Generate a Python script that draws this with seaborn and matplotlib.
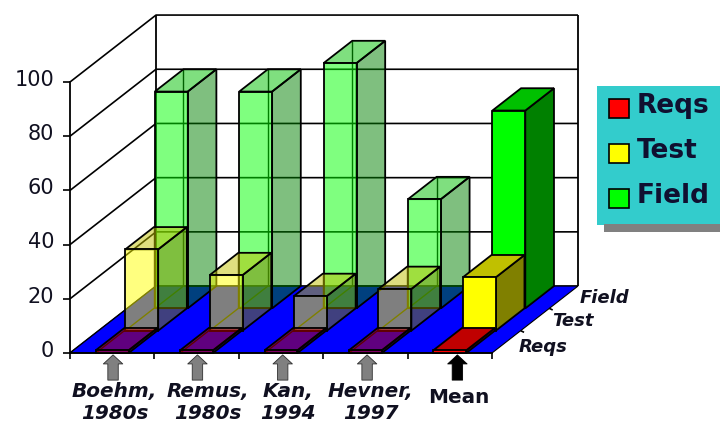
import matplotlib
matplotlib.use("Agg")
import matplotlib.pyplot as plt
import seaborn as sns
import pandas as pd
from matplotlib.patches import Patch, Rectangle
from matplotlib.transforms import Affine2D, ScaledTranslation

studies = ["Boehm,\n1980s", "Remus,\n1980s", "Kan,\n1994", "Hevner,\n1997", "Mean"]
reqs = [1, 1, 1, 1, 1]
test = [30, 20.5, 12.8, 15.4, 19.7]
field = [80, 80, 90.5, 40.3, 73]
series_names = ["Reqs", "Test", "Field"]
alphas = [0.5, 0.5, 0.5, 0.5, 1.0]
y_ticks = [0, 20, 40, 60, 80, 100]
label_shift = [0.03, 0.13, 0.08, 0.06, 0.11]
arrow_shift = [0.01, 0.01, 0.02, 0.02, 0.09]
depth_offsets = [(9, -3.5), (12, -1), (11.5, -0.5)]

front_colors = {"Reqs": "#ff0000", "Test": "#ffff00", "Field": "#00ff00"}
top_colors = {"Reqs": "#c00000", "Test": "#c0c000", "Field": "#00c000"}
side_colors = {"Reqs": "#800000", "Test": "#808000", "Field": "#008000"}
arrow_colors = ["#808080", "#808080", "#808080", "#808080", "#000000"]

sns.set_theme(style="white")
plt.rcParams["font.family"] = ["DejaVu Sans"]

W, H = 720, 423
fig = plt.figure(figsize=(W / 100, H / 100), dpi=100, facecolor="white")
ax = fig.add_axes([70 / W, (H - 353) / H, 422 / W, 271 / H])
ax.patch.set_visible(False)

DX, DY = 1.019, 24.7          # full floor depth, in data units
dx, dy = DX / 3, DY / 3       # depth of a single series row
BAR_W = 0.39
X0, X1 = -0.5, 4.5
LW = 1.3


def poly(xs, ys, fc, z, ec="black", lw=LW):
    ax.fill(xs, ys, facecolor=fc, edgecolor=ec, linewidth=lw, zorder=z, clip_on=False)


def line(xs, ys, z, lw=LW, color="black"):
    ax.plot(xs, ys, color=color, linewidth=lw, zorder=z, clip_on=False, solid_capstyle="butt")


# walls and gridlines
for v in y_ticks:
    line([X0, X0 + DX, X1 + DX], [v, v + DY, v + DY], 1, lw=1.2)
line([X0 + DX, X0 + DX], [DY, 100 + DY], 1)
line([X1 + DX, X1 + DX], [DY, 100 + DY], 1)

# floor
poly([X0, X1, X1 + DX, X0 + DX], [0, 0, DY, DY], "#0000ff", 2, lw=0.8)

# bars, back row first
rows = [("Field", field, 2), ("Test", test, 1), ("Reqs", reqs, 0)]
for name, values, row in rows:
    z = 3 + (2 - row)
    ox, oy = row * dx * 1.03, row * dy
    for i, (v, a) in enumerate(zip(values, alphas)):
        l, r = i - BAR_W / 2 + ox, i + BAR_W / 2 + ox
        # hidden edges, seen through the translucent faces
        line([l + dx, l + dx], [oy + dy, oy + dy + v], z + 0.1, lw=1.0)
        line([l, l + dx, r + dx], [oy, oy + dy, oy + dy], z + 0.1, lw=1.0)
        # side and top faces
        sc = matplotlib.colors.to_rgba(side_colors[name], a)
        tc = matplotlib.colors.to_rgba(top_colors[name], a)
        poly([r, r + dx, r + dx, r], [oy, oy + dy, oy + dy + v, oy + v], sc, z + 0.2)
        poly([l, r, r + dx, l + dx], [oy + v, oy + v, oy + v + dy, oy + v + dy], tc, z + 0.2)
    # front faces
    n_before = len(ax.patches)
    frame = pd.DataFrame({"study": studies, "value": values})
    sns.barplot(
        data=frame, x="study", y="value", order=studies, color=front_colors[name],
        saturation=1, width=BAR_W, errorbar=None, ax=ax, edgecolor="black",
        linewidth=LW, zorder=z + 0.3, clip_on=False,
        transform=Affine2D().translate(ox, oy) + ax.transData,
    )
    for p, a in zip(ax.patches[n_before:], alphas):
        p.set_facecolor(matplotlib.colors.to_rgba(front_colors[name], a))

# axes
ax.set_xlim(X0, X1)
ax.set_ylim(0, 100)
ax.set_xlabel("")
ax.set_ylabel("")
ax.set_yticks(y_ticks)
ax.set_xticks([i + s for i, s in enumerate(label_shift)])
ax.set_xticklabels(studies, fontsize=14.4, fontweight="bold", fontstyle="italic", color="#101020",
                   linespacing=1.2)
ax.set_xticks([X0 + k for k in range(len(studies) + 1)], minor=True)
ax.tick_params(axis="x", which="major", length=0, pad=21)
ax.tick_params(axis="x", which="minor", length=4, width=1.2, color="black", bottom=True)
ax.tick_params(axis="y", length=5, width=1.2, color="black", left=True, labelsize=15, labelcolor="#101020", pad=6.5)
for lab in ax.get_yticklabels():
    lab.set_transform(lab.get_transform() + ScaledTranslation(0, 3 / 72, fig.dpi_scale_trans))
for s in ("top", "right"):
    ax.spines[s].set_visible(False)
for s in ("left", "bottom"):
    ax.spines[s].set_color("black")
    ax.spines[s].set_linewidth(1.3)
    ax.spines[s].set_zorder(2.5)

mean_lab = ax.get_xticklabels()[-1]
mean_lab.set_fontstyle("normal")
ax.xaxis.get_major_ticks()[-1].set_pad(25)

# arrows under each study
for i, c in enumerate(arrow_colors):
    ax.annotate("", xy=(i + arrow_shift[i], -0.7), xytext=(i + arrow_shift[i], -10), annotation_clip=False,
                arrowprops=dict(facecolor=c, edgecolor="#303030" if i < 4 else "black", linewidth=0.6,
                                width=7.5, headwidth=14, headlength=6.5, shrink=0))

# depth axis ticks and labels
for k, name in enumerate(series_names):
    if k:
        line([X1 + k * dx, X1 + k * dx + 0.04], [k * dy, k * dy - 0.6], 3, lw=1.2)
    ax.annotate(name, xy=(X1 + (k + 0.5) * dx, (k + 0.5) * dy), xytext=depth_offsets[k], textcoords="offset points",
                fontsize=13, fontweight="bold", fontstyle="italic", color="#101020",
                va="center", ha="left", annotation_clip=False)

# legend with its shadow bar
fig.add_artist(Rectangle((604 / W, (H - 232) / H), 116 / W, 8 / H, transform=fig.transFigure,
                         facecolor="#808080", edgecolor="none"))
handles = [Patch(facecolor=front_colors[n], edgecolor="black", linewidth=1.2) for n in series_names]
leg = ax.legend(handles, series_names, loc="upper left", bbox_to_anchor=(597 / W, 1 - 85.7 / H),
                bbox_transform=fig.transFigure, borderaxespad=0, frameon=True, fancybox=False,
                facecolor="#33cccc", edgecolor="none", framealpha=1,
                prop=dict(family="DejaVu Sans", weight="bold", size=19),
                handlelength=0.76, handleheight=0.76, handletextpad=0.3,
                labelspacing=0.72, borderpad=0.45, labelcolor="#101030")
leg.set_zorder(10)
for t in leg.get_texts():
    t.set_y(5)

fig.savefig("out.png", dpi=100, facecolor="white")
